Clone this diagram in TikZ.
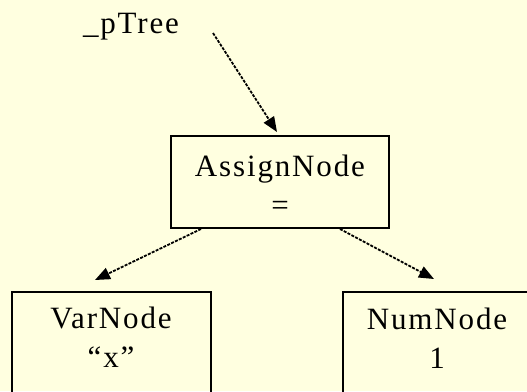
\documentclass[tikz,border=0pt]{standalone}
\usepackage{fontspec}
\setmainfont{Liberation Serif}[LetterSpace=6]
\usetikzlibrary{arrows.meta,calc}
\definecolor{bg}{RGB}{255,255,224}
\begin{document}
\begin{tikzpicture}[x=1pt,y=-1pt,
  box/.style={draw, line width=2pt, inner sep=0pt},
  lbl/.style={font=\fontsize{31}{39}\selectfont, align=center, inner sep=0pt},
  link/.style={line width=1.8pt, dash pattern=on 3pt off 1.3pt, -{Triangle[length=15pt,width=12pt]}}]
\fill[bg] (0,0) rectangle (527,391);
\useasboundingbox (0,0) rectangle (527,391);
\clip (0,0) rectangle (527,391);
\node[box, minimum width=218pt, minimum height=92pt] (assign) at (280,182) {};
\node[lbl] (assigntxt) at (280,185) {AssignNode\\=};
\node[box, minimum width=199pt, minimum height=148pt] (var) at (111.5,366) {};
\node[lbl] (vartxt) at (111,337) {VarNode\\“x”};
\node[box, minimum width=217pt, minimum height=148pt] (num) at (451.5,366) {};
\node[lbl] (numtxt) at (437,338) {NumNode\\1};
\node[lbl, anchor=base] (ptree) at (131,33) {\_pTree};
\coordinate (s) at (213,33);
\draw[link] (s) -- ($(assign.north)+(-3,-3)$);
\draw[link] ($(assign.south)+(-79,0)$) -- ($(var.north)+(-16.5,-11)$);
\draw[link] ($(assign.south)+(60,0)$) -- ($(num.north west)+(92,-12)$);
\end{tikzpicture}
\end{document}
